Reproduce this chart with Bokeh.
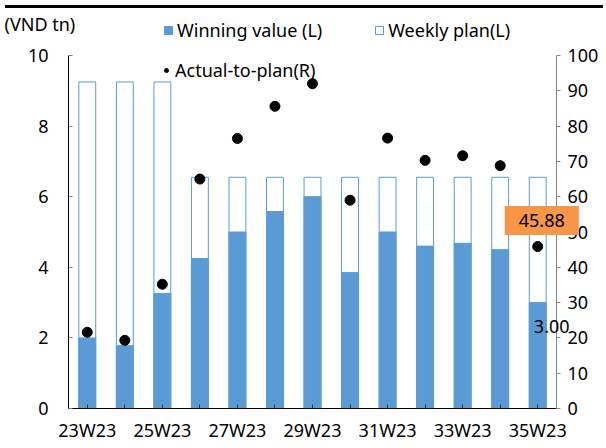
from bokeh.plotting import figure
from bokeh.models import (Range1d, LinearAxis, FixedTicker, Legend, LegendItem,
                          Label, Div)
from bokeh.layouts import column
from bokeh.embed import file_html
from bokeh.resources import INLINE

weeks = ["23W23", "24W23", "25W23", "26W23", "27W23", "28W23", "29W23",
         "30W23", "31W23", "32W23", "33W23", "34W23", "35W23"]
weekly_plan = [9.25, 9.25, 9.25, 6.55, 6.55, 6.55, 6.55, 6.55, 6.55, 6.55, 6.55, 6.55, 6.55]
winning_value = [2.0, 1.78, 3.26, 4.25, 5.0, 5.58, 6.0, 3.85, 5.0, 4.6, 4.68, 4.5, 3.0]
actual_to_plan = [21.6, 19.3, 35.2, 65.0, 76.5, 85.6, 92.0, 59.0, 76.6, 70.3, 71.6, 68.8, 45.88]
left_ticks = [0, 2, 4, 6, 8, 10]
right_ticks = [0, 10, 20, 30, 40, 50, 60, 70, 80, 90, 100]
unit_label = "(VND tn)"

FONT = "Noto Sans"
FS = "18px"
BLUE = "#5b9bd5"
ORANGE = "#f79646"

# canvas size and where the axes box sits inside it (pixels)
W, H = 598, 429
BOX_L, BOX_T, BOX_W, BOX_H = 68, 42, 488, 353

xs = list(range(len(weeks)))
X0, X1 = -0.5, len(weeks) - 0.5
Y0, Y1 = 0, 10
R0, R1 = 0, 100

# extend the ranges so the frame covers the whole canvas (nothing gets clipped);
# the axes are pinned at the box edges with fixed_location and bounds
sx = BOX_W / (X1 - X0)
sy = BOX_H / (Y1 - Y0)
x_range = Range1d(X0 - BOX_L / sx, X1 + (W - BOX_L - BOX_W) / sx)
y_range = Range1d(Y0 - (H - BOX_T - BOX_H) / sy, Y1 + BOX_T / sy)
k = (R1 - R0) / (Y1 - Y0)
r_range = Range1d(R0 + (y_range.start - Y0) * k, R0 + (y_range.end - Y0) * k)

p = figure(width=W, height=H, output_backend="svg", toolbar_location=None,
           x_range=x_range, y_range=y_range,
           min_border_left=0, min_border_right=0, min_border_top=0,
           min_border_bottom=0)
p.extra_y_ranges = {"r": r_range}
p.outline_line_color = None
p.xgrid.visible = False
p.ygrid.visible = False
p.background_fill_color = "white"
p.border_fill_color = "white"

plan_r = p.vbar(x=xs, top=weekly_plan, width=0.45, fill_color="white",
                line_color=BLUE, line_width=1)
win_r = p.vbar(x=xs, top=winning_value, width=0.45, fill_color=BLUE,
               line_color=BLUE, line_width=1)
dot_r = p.scatter(x=xs, y=actual_to_plan, y_range_name="r", size=10,
                  fill_color="black", line_color="black")

# axes
xa = p.xaxis[0]
xa.fixed_location = Y0
xa.bounds = (X0, X1)
xa.ticker = FixedTicker(ticks=xs)
xa.major_label_overrides = {i: (w if i % 2 == 0 else "") for i, w in enumerate(weeks)}
xa.axis_line_color = "black"
xa.major_tick_in = 4
xa.major_tick_out = 0
xa.major_tick_line_color = "#333333"
xa.minor_tick_line_color = None
xa.major_label_text_font = FONT
xa.major_label_text_font_size = FS
xa.major_label_text_color = "black"
xa.major_label_standoff = 9

ya = p.yaxis[0]
ya.fixed_location = X0
ya.bounds = (Y0, Y1)
ya.ticker = FixedTicker(ticks=left_ticks)
ya.axis_line_color = "black"
ya.major_tick_in = 4
ya.major_tick_out = 0
ya.major_tick_line_color = "#808080"
ya.minor_tick_line_color = None
ya.major_label_text_font = FONT
ya.major_label_text_font_size = FS
ya.major_label_text_color = "black"
ya.major_label_standoff = 20

ra = LinearAxis(y_range_name="r", ticker=FixedTicker(ticks=right_ticks))
ra.fixed_location = X1
ra.bounds = (R0, R1)
ra.axis_line_color = "#868686"
ra.major_tick_in = 0
ra.major_tick_out = 4
ra.major_tick_line_color = "#868686"
ra.minor_tick_line_color = None
ra.major_label_text_font = FONT
ra.major_label_text_font_size = FS
ra.major_label_text_color = "black"
ra.major_label_standoff = 7
p.add_layout(ra, "right")

# legends (location = bottom-left corner, pixels from the canvas bottom-left)
def style_legend(lg):
    lg.border_line_color = None
    lg.background_fill_alpha = 0
    lg.padding = 0
    lg.margin = 0
    lg.glyph_width = 10
    lg.glyph_height = 10
    lg.label_standoff = 4
    lg.label_height = 24
    lg.label_text_font = FONT
    lg.label_text_font_size = FS
    lg.label_text_color = "black"
    p.add_layout(lg, "center")

leg1 = Legend(items=[LegendItem(label="Winning value (L)", renderers=[win_r]),
                     LegendItem(label="Weekly plan(L)", renderers=[plan_r])],
              orientation="horizontal", spacing=52, location=(163, 400))
style_legend(leg1)
leg2 = Legend(items=[LegendItem(label="Actual-to-plan(R)", renderers=[dot_r])],
              location=(161, 360))
style_legend(leg2)

# unit label at the top-left
p.add_layout(Label(x=4, y=H + 2, x_units="screen", y_units="screen",
                   text=unit_label, text_font=FONT, text_font_size=FS,
                   text_color="black", text_baseline="top"))

# data labels for the last week
last = len(weeks) - 1
p.add_layout(Label(x=last, y=winning_value[last], text=f"{winning_value[last]:.2f}",
                   x_offset=14, y_offset=-24, text_align="center",
                   text_baseline="middle", text_font=FONT, text_font_size=FS,
                   text_color="black"))
p.add_layout(Label(x=last, y=actual_to_plan[last], y_range_name="r",
                   text=f"{actual_to_plan[last]:.2f}", x_offset=4, y_offset=26,
                   text_align="center", text_baseline="middle", text_font=FONT,
                   text_font_size=FS, text_color="black",
                   background_fill_color=ORANGE,
                   padding=dict(left=14, right=14, top=8, bottom=8)))

top_bar = Div(width=W, height=3, styles={"background-color": "black"})
layout = column(top_bar, p, spacing=0)

open("out.html", "w").write(file_html(layout, INLINE))
